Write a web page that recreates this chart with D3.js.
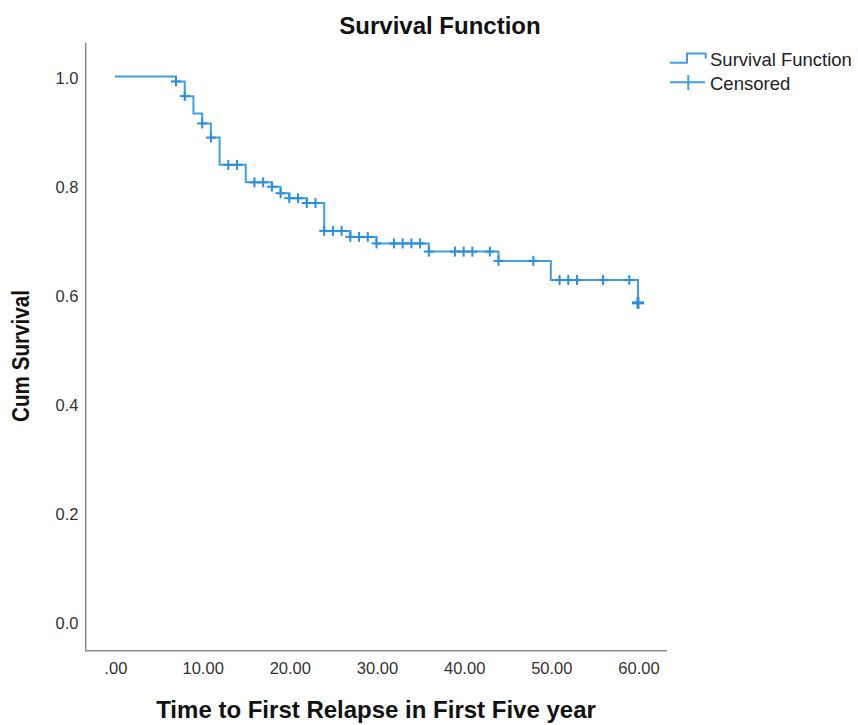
<!DOCTYPE html>
<html>
<head>
<meta charset="utf-8">
<script src="https://cdn.jsdelivr.net/npm/d3@7/dist/d3.min.js"></script>
<style>
  html, body { margin: 0; padding: 0; background: #fff; }
  svg { display: block; font-family: "Liberation Sans", Arial, sans-serif; }
</style>
</head>
<body>
<svg id="chart" width="858" height="725"></svg>
<script>
// ---- data ----
const eventTimes     = [0, 7, 8, 9, 10, 11, 12, 15, 18, 19, 20, 22, 24, 27, 30, 36, 44, 50, 60];
const survivalValues = [1.0, 0.991, 0.964, 0.932, 0.914, 0.888, 0.838, 0.806, 0.798, 0.786, 0.777, 0.768, 0.717, 0.706, 0.694, 0.679, 0.662, 0.627, 0.585];
const censorTimes    = [7, 8, 10, 11, 13, 14, 16, 17, 18, 19, 20, 21, 22, 23, 24, 25, 26, 27, 28, 29, 30, 32, 33, 34, 35, 36, 39, 40, 41, 43, 44, 48, 51, 52, 53, 56, 59, 60];
const xTickValues = [0, 10, 20, 30, 40, 50, 60];
const xTickLabels = [".00", "10.00", "20.00", "30.00", "40.00", "50.00", "60.00"];
const yTickValues = [0.0, 0.2, 0.4, 0.6, 0.8, 1.0];
const yTickLabels = ["0.0", "0.2", "0.4", "0.6", "0.8", "1.0"];
const titleText = "Survival Function";
const xTitle = "Time to First Relapse in First Five year";
const yTitle = "Cum Survival";
const legendLabels = ["Survival Function", "Censored"];

// ---- layout ----
const svg = d3.select("#chart");
const lineColor = "#3e9fe6";
const markColor = "#2b8fe0";
const axisColor = "#8a8a8a";

const x = d3.scaleLinear().domain([0, 60]).range([115, 638]);
const y = d3.scaleLinear().domain([0, 1]).range([622, 76.5]);

svg.append("rect").attr("width", 858).attr("height", 725).attr("fill", "#fff");

// title
svg.append("text")
  .attr("x", 440).attr("y", 34)
  .attr("text-anchor", "middle")
  .attr("font-weight", "bold").attr("font-size", 24)
  .attr("fill", "#111")
  .text(titleText);

// axes lines (frame left + bottom)
svg.append("line").attr("x1", 85.7).attr("x2", 85.7).attr("y1", 43).attr("y2", 651)
  .attr("stroke", axisColor).attr("stroke-width", 1.5);
svg.append("line").attr("x1", 85).attr("x2", 667).attr("y1", 650.7).attr("y2", 650.7)
  .attr("stroke", axisColor).attr("stroke-width", 1.5);

// y tick labels
svg.append("g").selectAll("text").data(yTickValues).join("text")
  .attr("x", 78.5)
  .attr("y", d => y(d) + 1.5)
  .attr("dy", "0.35em")
  .attr("text-anchor", "end")
  .attr("font-size", 16.5)
  .attr("fill", "#333")
  .text((d, i) => yTickLabels[i]);

// x tick labels
svg.append("g").selectAll("text").data(xTickValues).join("text")
  .attr("x", d => x(d) + 1)
  .attr("y", 674)
  .attr("text-anchor", "middle")
  .attr("font-size", 16.5)
  .attr("fill", "#333")
  .text((d, i) => xTickLabels[i]);

// axis titles
svg.append("text")
  .attr("x", 376).attr("y", 718)
  .attr("text-anchor", "middle")
  .attr("font-weight", "bold").attr("font-size", 24)
  .attr("fill", "#111")
  .text(xTitle);

svg.append("text")
  .attr("transform", "translate(29,356) rotate(-90)")
  .attr("text-anchor", "middle")
  .attr("font-weight", "bold").attr("font-size", 23)
  .attr("textLength", 132).attr("lengthAdjust", "spacingAndGlyphs")
  .attr("fill", "#111")
  .text(yTitle);

// survival step curve
const pts = eventTimes.map((t, i) => [t, survivalValues[i]]);
const line = d3.line().x(d => x(d[0])).y(d => y(d[1])).curve(d3.curveStepAfter);
svg.append("path")
  .attr("d", line(pts))
  .attr("fill", "none")
  .attr("stroke", lineColor)
  .attr("stroke-width", 2);

// censor marks at the survival level in force at that time
function survAt(t) {
  let s = survivalValues[0];
  for (let i = 0; i < eventTimes.length; i++) if (eventTimes[i] <= t) s = survivalValues[i];
  return s;
}
const marks = svg.append("g");
censorTimes.forEach((t, i) => {
  const cx = x(t), cy = y(survAt(t));
  const last = i === censorTimes.length - 1;
  const h = last ? 6 : 5;
  const sw = last ? 3 : 2;
  marks.append("line").attr("x1", cx - h).attr("x2", cx + h).attr("y1", cy).attr("y2", cy)
    .attr("stroke", markColor).attr("stroke-width", sw);
  marks.append("line").attr("x1", cx).attr("x2", cx).attr("y1", cy - h).attr("y2", cy + h)
    .attr("stroke", markColor).attr("stroke-width", sw);
});

// legend
const lg = svg.append("g");
lg.append("path")
  .attr("d", "M670,62.7H687V53.5H705.7V58.5")
  .attr("fill", "none").attr("stroke", lineColor).attr("stroke-width", 2);
lg.append("line").attr("x1", 670).attr("x2", 705).attr("y1", 82.3).attr("y2", 82.3)
  .attr("stroke", lineColor).attr("stroke-width", 2);
lg.append("line").attr("x1", 688.3).attr("x2", 688.3).attr("y1", 75).attr("y2", 90)
  .attr("stroke", lineColor).attr("stroke-width", 2);
lg.selectAll("text").data(legendLabels).join("text")
  .attr("x", 710)
  .attr("y", (d, i) => 59.3 + i * 24)
  .attr("dy", "0.35em")
  .attr("font-size", 18.5)
  .attr("fill", "#222")
  .text(d => d);
</script>
</body>
</html>
